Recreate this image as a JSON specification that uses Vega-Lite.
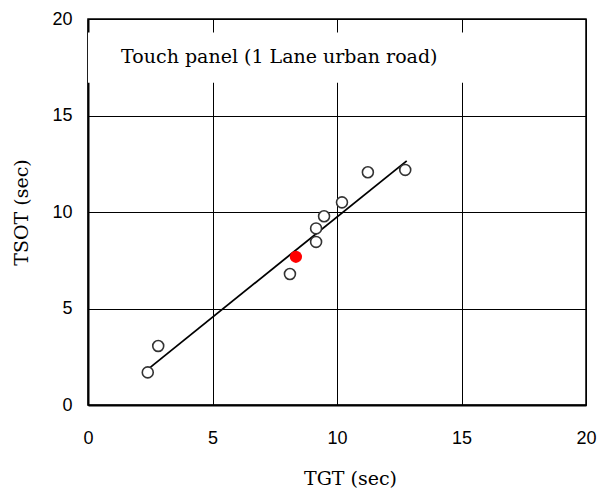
{
  "$schema": "https://vega.github.io/schema/vega-lite/v6.json",
  "width": 498,
  "height": 386,
  "autosize": {"type": "none"},
  "padding": {"left": 88, "top": 19, "right": 11, "bottom": 90},
  "background": "white",
  "config": {
    "view": {"stroke": "black", "strokeWidth": 1.5},
    "axis": {
      "domainColor": "black",
      "domainWidth": 2,
      "gridColor": "black",
      "gridWidth": 1,
      "gridOpacity": 1,
      "ticks": false,
      "labelFlush": false,
      "labelFont": "Liberation Sans",
      "labelFontSize": 18,
      "labelColor": "black",
      "titleFont": "DejaVu Serif",
      "titleFontSize": 19,
      "titleFontWeight": "normal",
      "titleColor": "black"
    }
  },
  "layer": [
    {
      "data": {"values": [{"x0": 0, "x1": 15.4, "y0": 16.7, "y1": 19.3}]},
      "mark": {"type": "rect", "fill": "white", "strokeWidth": 0},
      "encoding": {
        "x": {"field": "x0", "type": "quantitative", "scale": {"domain": [0, 20]}, "axis": {"values": [0, 5, 10, 15, 20], "title": "TGT (sec)", "labelPadding": 24, "titlePadding": 22, "titleX": 262}},
        "x2": {"field": "x1"},
        "y": {"field": "y0", "type": "quantitative", "scale": {"domain": [0, 20]}, "axis": {"values": [0, 5, 10, 15, 20], "title": "TSOT (sec)", "labelPadding": 16, "titlePadding": 20}},
        "y2": {"field": "y1"}
      }
    },
    {
      "data": {"values": [{"x": 1.33, "y": 18.05, "label": "Touch panel (1 Lane urban road)"}]},
      "mark": {"type": "text", "align": "left", "baseline": "middle", "font": "DejaVu Serif", "fontSize": 19, "color": "black"},
      "encoding": {
        "x": {"field": "x", "type": "quantitative"},
        "y": {"field": "y", "type": "quantitative"},
        "text": {"field": "label"}
      }
    },
    {
      "data": {"values": [{"x": 2.45, "y": 1.9}, {"x": 12.8, "y": 12.65}]},
      "mark": {"type": "line", "color": "black", "strokeWidth": 1.8},
      "encoding": {
        "x": {"field": "x", "type": "quantitative"},
        "y": {"field": "y", "type": "quantitative"}
      }
    },
    {
      "data": {"values": [
        {"x": 2.40, "y": 1.69},
        {"x": 2.82, "y": 3.06},
        {"x": 8.11, "y": 6.79},
        {"x": 9.16, "y": 8.45},
        {"x": 9.16, "y": 9.15},
        {"x": 9.48, "y": 9.78},
        {"x": 10.2, "y": 10.50},
        {"x": 11.24, "y": 12.06},
        {"x": 12.74, "y": 12.18}
      ]},
      "mark": {"type": "point", "shape": "circle", "filled": false, "fill": "white", "stroke": "#333", "strokeWidth": 1.6, "size": 120, "opacity": 1},
      "encoding": {
        "x": {"field": "x", "type": "quantitative"},
        "y": {"field": "y", "type": "quantitative"}
      }
    },
    {
      "data": {"values": [{"x": 8.35, "y": 7.68}]},
      "mark": {"type": "point", "shape": "circle", "filled": true, "color": "red", "size": 150, "opacity": 1},
      "encoding": {
        "x": {"field": "x", "type": "quantitative"},
        "y": {"field": "y", "type": "quantitative"}
      }
    }
  ]
}
